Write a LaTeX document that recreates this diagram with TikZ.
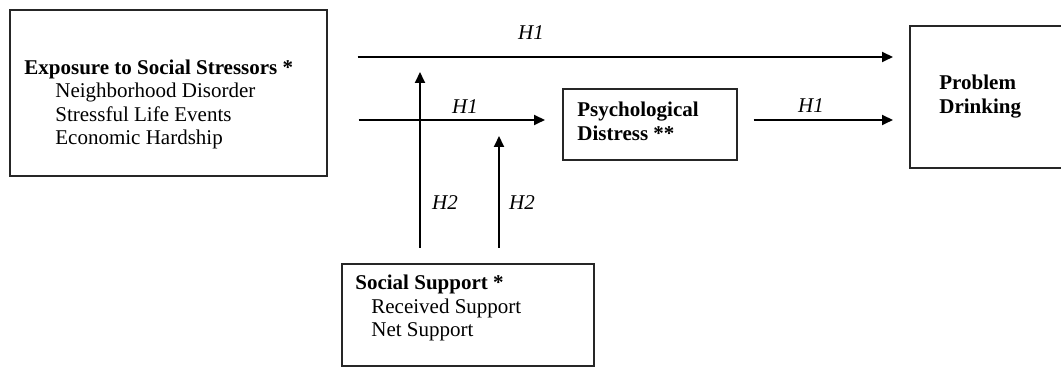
\documentclass[tikz,border=0pt]{standalone}
\usepackage{fontspec}
\setmainfont{Liberation Serif}
\usetikzlibrary{arrows.meta}
\begin{document}
\begin{tikzpicture}[x=0.5pt,y=-0.5pt,
  font=\fontsize{10.5}{11.75}\selectfont,
  box/.style={draw=black!85, line width=0.8pt, inner sep=0pt, anchor=north west},
  lbl/.style={font=\fontsize{10.5}{11.75}\selectfont\itshape, inner sep=0pt},
  txt/.style={align=left, anchor=west, inner sep=0pt},
  arr/.style={line width=0.9pt, draw=black, -{Triangle[length=5.5pt,width=5pt]}}]
\useasboundingbox (0,0) rectangle (1061,367);
\clip (0,0) rectangle (1061,367);
% boxes
\node[box, minimum width=158.5pt, minimum height=83pt] (ex) at (9,9) {};
\node[box, minimum width=87pt, minimum height=35.5pt] (ps) at (562,88) {};
\node[box, minimum width=85.5pt, minimum height=71pt] (pd) at (909,25) {};
\node[box, minimum width=126pt, minimum height=51pt] (ss) at (341,263) {};
% texts
\node[txt] (ext) at (24,104.5) {\textbf{Exposure to Social Stressors *}\\\hspace*{15.5pt}Neighborhood Disorder\\\hspace*{15.5pt}Stressful Life Events\\\hspace*{15.5pt}Economic Hardship};
\node[txt] (pst) at (577,121.5) {\textbf{Psychological}\\\textbf{Distress **}};
\node[txt] (pdt) at (939,96.5) {\textbf{Problem}\\\textbf{Drinking}};
\node[txt] (sst) at (355,308) {\textbf{Social Support *}\\\hspace*{8pt}Received Support\\\hspace*{8pt}Net Support};
% connectors
\coordinate (yA) at (0,57);
\coordinate (yB) at (0,120);
\coordinate (t1) at (420,72);
\coordinate (t2) at (499,136);
\draw[arr, shorten <=15pt, shorten >=8pt] (ex.east |- yA) -- (pd.west |- yA);
\draw[arr, shorten <=15.5pt, shorten >=8.5pt] (ex.east |- yB) -- (ps.west |- yB);
\draw[arr, shorten <=8pt, shorten >=8pt] (ps.east |- yB) -- (pd.west |- yB);
\draw[arr, shorten <=7.5pt] (ss.north -| t1) -- (t1);
\draw[arr, shorten <=7.5pt] (ss.north -| t2) -- (t2);
% labels
\node[lbl] (h1a) at (531,33) {H1};
\node[lbl] (h1b) at (465,107) {H1};
\node[lbl] (h1c) at (811,106) {H1};
\node[lbl] (h2a) at (445,203) {H2};
\node[lbl] (h2b) at (522,203) {H2};
\end{tikzpicture}
\end{document}
